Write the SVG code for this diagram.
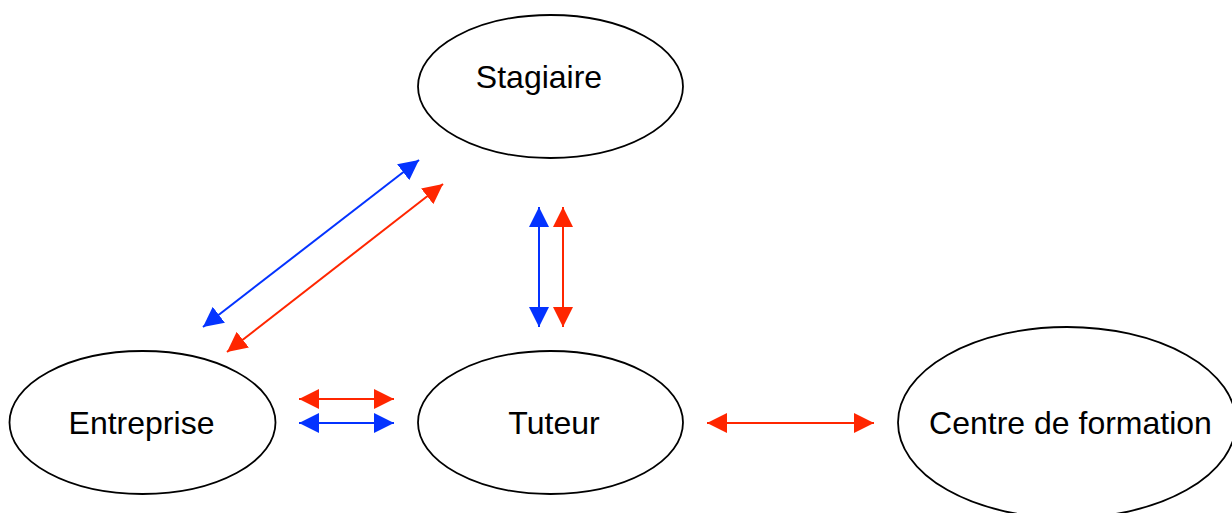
<svg xmlns="http://www.w3.org/2000/svg" width="1232" height="513" viewBox="0 0 1232 513">
  <style>
    .node ellipse { fill: #ffffff; stroke: #000000; stroke-width: 1.8; }
    .node text { font-family: "Liberation Sans", Arial, Helvetica, sans-serif; font-size: 32px; fill: #000000; text-anchor: middle; }
    .red { stroke: #FF2600; stroke-width: 2; fill: none; marker-start: url(#ahR); marker-end: url(#ahR); }
    .blue { stroke: #0433FF; stroke-width: 2; fill: none; marker-start: url(#ahB); marker-end: url(#ahB); }
  </style>
  <defs>
    <marker id="ahR" markerUnits="userSpaceOnUse" markerWidth="20" markerHeight="20" refX="20" refY="10" orient="auto-start-reverse" viewBox="0 0 20 20">
      <path d="M0,0 L20,10 L0,20 z" fill="#FF2600"/>
    </marker>
    <marker id="ahB" markerUnits="userSpaceOnUse" markerWidth="20" markerHeight="20" refX="20" refY="10" orient="auto-start-reverse" viewBox="0 0 20 20">
      <path d="M0,0 L20,10 L0,20 z" fill="#0433FF"/>
    </marker>
  </defs>
  <rect width="1232" height="513" fill="#ffffff"/>
  <g id="stagiaire" class="node">
    <ellipse cx="550.5" cy="86.5" rx="132.5" ry="71.5"/>
    <text x="539" y="88">Stagiaire</text>
  </g>
  <g id="entreprise" class="node">
    <ellipse cx="142.5" cy="422.5" rx="133" ry="71.5"/>
    <text x="141.5" y="434">Entreprise</text>
  </g>
  <g id="tuteur" class="node">
    <ellipse cx="550.5" cy="422.5" rx="132.5" ry="71.5"/>
    <text x="554" y="434">Tuteur</text>
  </g>
  <g id="centre" class="node">
    <ellipse cx="1067" cy="422.5" rx="169" ry="95.5"/>
    <text x="1070.5" y="434">Centre de formation</text>
  </g>
  <g id="connectors">
    <line class="blue" x1="203" y1="327" x2="419" y2="160"/>
    <line class="red" x1="227" y1="352" x2="443" y2="184"/>
    <line class="blue" x1="539" y1="207" x2="539" y2="327"/>
    <line class="red" x1="563" y1="207" x2="563" y2="327"/>
    <line class="red" x1="299" y1="399" x2="394" y2="399"/>
    <line class="blue" x1="299" y1="423" x2="394" y2="423"/>
    <line class="red" x1="707" y1="423" x2="874" y2="423"/>
  </g>
</svg>
